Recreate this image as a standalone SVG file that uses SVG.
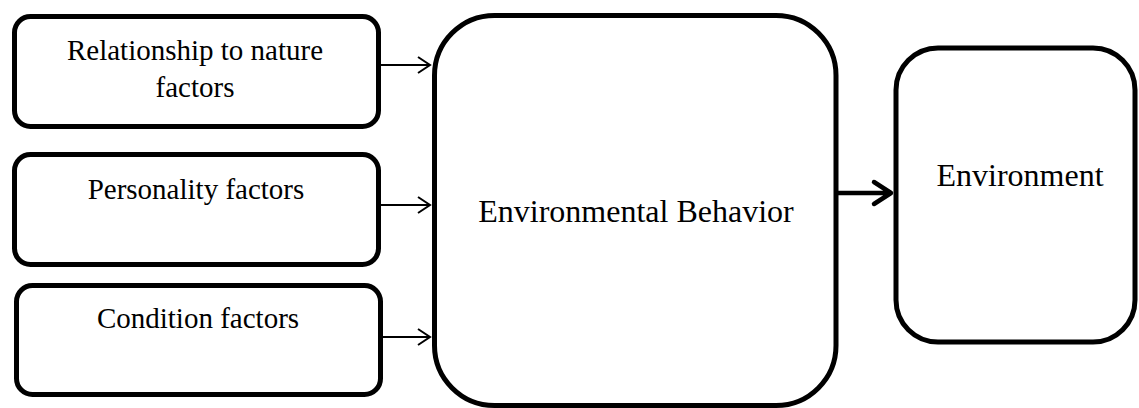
<svg xmlns="http://www.w3.org/2000/svg" width="1139" height="408" viewBox="0 0 1139 408">
<style>
.box{fill:#fff;stroke:#000;stroke-width:5}
text{font-family:'Liberation Serif','Times New Roman',Times,'DejaVu Serif',serif;fill:#000;text-anchor:middle}
.s{font-size:29px}
.b{font-size:32px}
.thin{stroke:#000;stroke-width:2;fill:none}
.thick{stroke:#000;stroke-width:4.5;fill:none;stroke-linecap:round;stroke-linejoin:round}
</style>
<rect width="1139" height="408" fill="#fff"/>
<g id="node-relationship">
<rect class="box" x="14.5" y="16.5" width="364" height="110" rx="16"/>
<text class="s" x="195" y="60" font-family="Liberation Serif, serif">Relationship to nature</text>
<text class="s" x="195" y="97" font-family="Liberation Serif, serif">factors</text>
</g>
<g id="node-personality">
<rect class="box" x="14.5" y="154.5" width="364" height="110" rx="16"/>
<text class="s" x="196" y="199" font-family="Liberation Serif, serif">Personality factors</text>
</g>
<g id="node-condition">
<rect class="box" x="16.5" y="285.5" width="364" height="109" rx="16"/>
<text class="s" x="198" y="328" font-family="Liberation Serif, serif">Condition factors</text>
</g>
<g id="node-behavior">
<rect class="box" x="434.5" y="15.5" width="401.5" height="390" rx="60"/>
<text class="b" x="636" y="222" font-family="Liberation Serif, serif">Environmental Behavior</text>
</g>
<g id="node-environment">
<rect class="box" x="896" y="48" width="239" height="294" rx="42"/>
<text class="b" x="1020" y="186" font-family="Liberation Serif, serif">Environment</text>
</g>
<g id="connectors">
<path class="thin" d="M380 65H430M418 57L430 65L418 73"/>
<path class="thin" d="M380 205H430M418 197L430 205L418 213"/>
<path class="thin" d="M382 337H430M418 329L430 337L418 345"/>
<path class="thick" d="M838 193H891M874 182L891 193L874 204"/>
</g>
</svg>
